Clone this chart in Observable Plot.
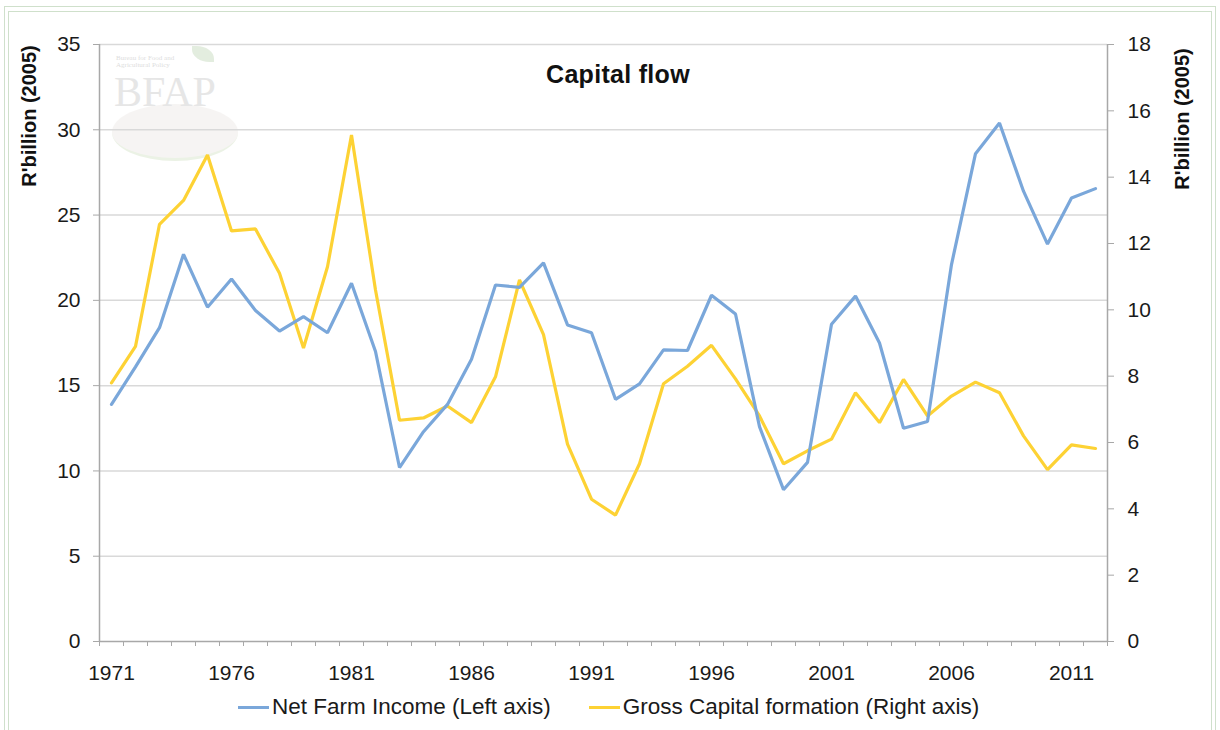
<!DOCTYPE html>
<html>
<head>
<meta charset="utf-8">
<script src="https://cdn.jsdelivr.net/npm/d3@7"></script>
<script src="https://cdn.jsdelivr.net/npm/@observablehq/plot@0.6"></script>
<style>
  html, body { margin: 0; padding: 0; background: #fff; }
  body { font-family: "Liberation Sans", Arial, Helvetica, sans-serif; color: #1a1a1a; }
  #wrap { position: relative; width: 1220px; height: 730px; overflow: hidden; background: #fff; }
  .frame { position: absolute; border: 1px solid #cfe0cb; pointer-events: none; }
  #chart { position: absolute; left: 0; top: 0; }
  #title { position: absolute; left: 0; width: 1236px; top: 62px; text-align: center;
           font-weight: bold; font-size: 25px; line-height: 25px; letter-spacing: 0.3px; color: #111; }
  .ytitle { position: absolute; font-weight: bold; font-size: 20px; line-height: 20px; white-space: nowrap;
            transform: translate(-50%, -50%) rotate(-90deg); color: #111; }
  #legend { position: absolute; left: 238px; top: 694px; display: flex; align-items: center;
            font-size: 22.5px; line-height: 26px; color: #1a1a1a; white-space: nowrap; }
  .sw { display: inline-block; width: 31px; height: 3px; margin-right: 3px; }
  .item { display: flex; align-items: center; margin-right: 38px; }
  #logo { position: absolute; left: 110px; top: 42px; width: 135px; height: 125px; pointer-events: none; opacity: 0.5; }
  #logo .small { position: absolute; left: 6px; top: 13px; font-family: "Liberation Serif", serif; font-size: 7px; line-height: 7px; color: #bdbdbd; }
  #logo .big { position: absolute; left: 4px; top: 29px; font-family: "Liberation Serif", serif; font-size: 42px; line-height: 42px; color: #cfcfcf; letter-spacing: 0px; }
  #logo .ell { position: absolute; left: 2px; top: 62px; width: 126px; height: 54px; border-radius: 50%; background: #efebe8; border-bottom: 3px solid #d8e6cc; }
  #logo .leaf { position: absolute; left: 82px; top: 4px; width: 22px; height: 16px; border-radius: 0 80% 0 80%; background: #c9dcc0; }
</style>
</head>
<body>
<div id="wrap">
  <div class="frame" style="left:4px; top:6px; width:1210px; height:740px;"></div>
  <div class="frame" style="left:8px; top:11px; width:1202px; height:740px;"></div>
  <div id="logo">
    <div class="ell"></div>
    <div class="leaf"></div>
    <div class="small">Bureau for Food and<br>Agricultural Policy</div>
    <div class="big">BFAP</div>
  </div>
  <div id="chart"></div>
  <div id="title">Capital flow</div>
  <div class="ytitle" style="left:29px; top:116px;">R'billion (2005)</div>
  <div class="ytitle" style="left:1182px; top:119px;">R'billion (2005)</div>
  <div id="legend">
    <div class="item"><span class="sw" style="background:#7aa7da"></span>Net Farm Income (Left axis)</div>
    <div class="item"><span class="sw" style="background:#fdd234"></span>Gross Capital formation (Right axis)</div>
  </div>
</div>
<script>
// ---- data ----
const years = [1971,1972,1973,1974,1975,1976,1977,1978,1979,1980,
               1981,1982,1983,1984,1985,1986,1987,1988,1989,1990,
               1991,1992,1993,1994,1995,1996,1997,1998,1999,2000,
               2001,2002,2003,2004,2005,2006,2007,2008,2009,2010,
               2011,2012];
// Net Farm Income, R'billion (2005), left axis
const netFarmIncome = [13.9,16.1,18.4,22.7,19.6,21.25,19.4,18.2,19.05,18.1,
                       21.0,17.0,10.2,12.3,13.9,16.55,20.9,20.76,22.2,18.56,
                       18.1,14.2,15.1,17.1,17.06,20.3,19.2,12.6,8.9,10.5,
                       18.6,20.25,17.5,12.5,12.9,22.1,28.6,30.4,26.4,23.3,
                       26.0,26.55];
// Gross Capital formation, R'billion (2005), right axis
const grossCapital = [7.8,8.9,12.58,13.3,14.67,12.38,12.44,11.1,8.85,11.3,
                      15.27,10.6,6.67,6.74,7.1,6.6,7.98,10.9,9.25,5.95,
                      4.29,3.81,5.36,7.77,8.3,8.93,7.92,6.8,5.36,5.75,
                      6.1,7.5,6.6,7.9,6.8,7.4,7.82,7.5,6.2,5.18,
                      5.93,5.82];
const leftTicks = [0,5,10,15,20,25,30,35];
const rightTicks = [0,2,4,6,8,10,12,14,16,18];
const xLabelYears = [1971,1976,1981,1986,1991,1996,2001,2006,2011];

const leftMax = 35, rightMax = 18;
const k = leftMax / rightMax;
const blue = "#7aa7da", yellow = "#fdd234", axisGray = "#a8a8a8", gridGray = "#d9d9d9", textColor = "#1a1a1a";

const nfiData = years.map((y, i) => ({year: y, value: netFarmIncome[i]}));
const gcfData = years.map((y, i) => ({year: y, value: grossCapital[i] * k}));
const boundaries = years.map(y => y - 0.5).concat([years[years.length - 1] + 0.5]);
const xDomain = [years[0] - 0.5, years[years.length - 1] + 0.5];

const chart = Plot.plot({
  width: 1220,
  height: 690,
  marginLeft: 99,
  marginRight: 113,
  marginTop: 44,
  marginBottom: 49,
  style: {fontFamily: '"Liberation Sans", Arial, Helvetica, sans-serif', fontSize: "21px", color: textColor, background: "transparent", overflow: "visible"},
  x: {domain: xDomain, axis: null},
  y: {domain: [0, leftMax], axis: null},
  marks: [
    Plot.ruleY(leftTicks.filter(d => d > 0), {stroke: gridGray, strokeWidth: 1.5}),
    Plot.ruleX([xDomain[0], xDomain[1]], {stroke: axisGray, strokeWidth: 1.5}),
    Plot.ruleY([0], {stroke: axisGray, strokeWidth: 1.5}),
    Plot.axisY(leftTicks, {anchor: "left", tickSize: 6, tickPadding: 13, stroke: axisGray, fill: textColor, fontSize: 21, label: null, tickFormat: d => String(d)}),
    Plot.axisY(rightTicks.map(v => v * k), {anchor: "right", tickSize: 6, tickPadding: 14, stroke: axisGray, fill: textColor, fontSize: 21, label: null, tickFormat: d => String(Math.round(d / k))}),
    Plot.axisX(boundaries, {anchor: "bottom", tickSize: 5, stroke: axisGray, label: null, tickFormat: () => ""}),
    Plot.axisX(xLabelYears, {anchor: "bottom", tickSize: 0, tickPadding: 24, fill: textColor, fontSize: 21, label: null, tickFormat: d => String(d)}),
    Plot.line(gcfData, {x: "year", y: "value", stroke: yellow, strokeWidth: 3.2, strokeLinejoin: "miter"}),
    Plot.line(nfiData, {x: "year", y: "value", stroke: blue, strokeWidth: 3.2, strokeLinejoin: "miter"})
  ]
});
document.getElementById("chart").appendChild(chart);
</script>
</body>
</html>
